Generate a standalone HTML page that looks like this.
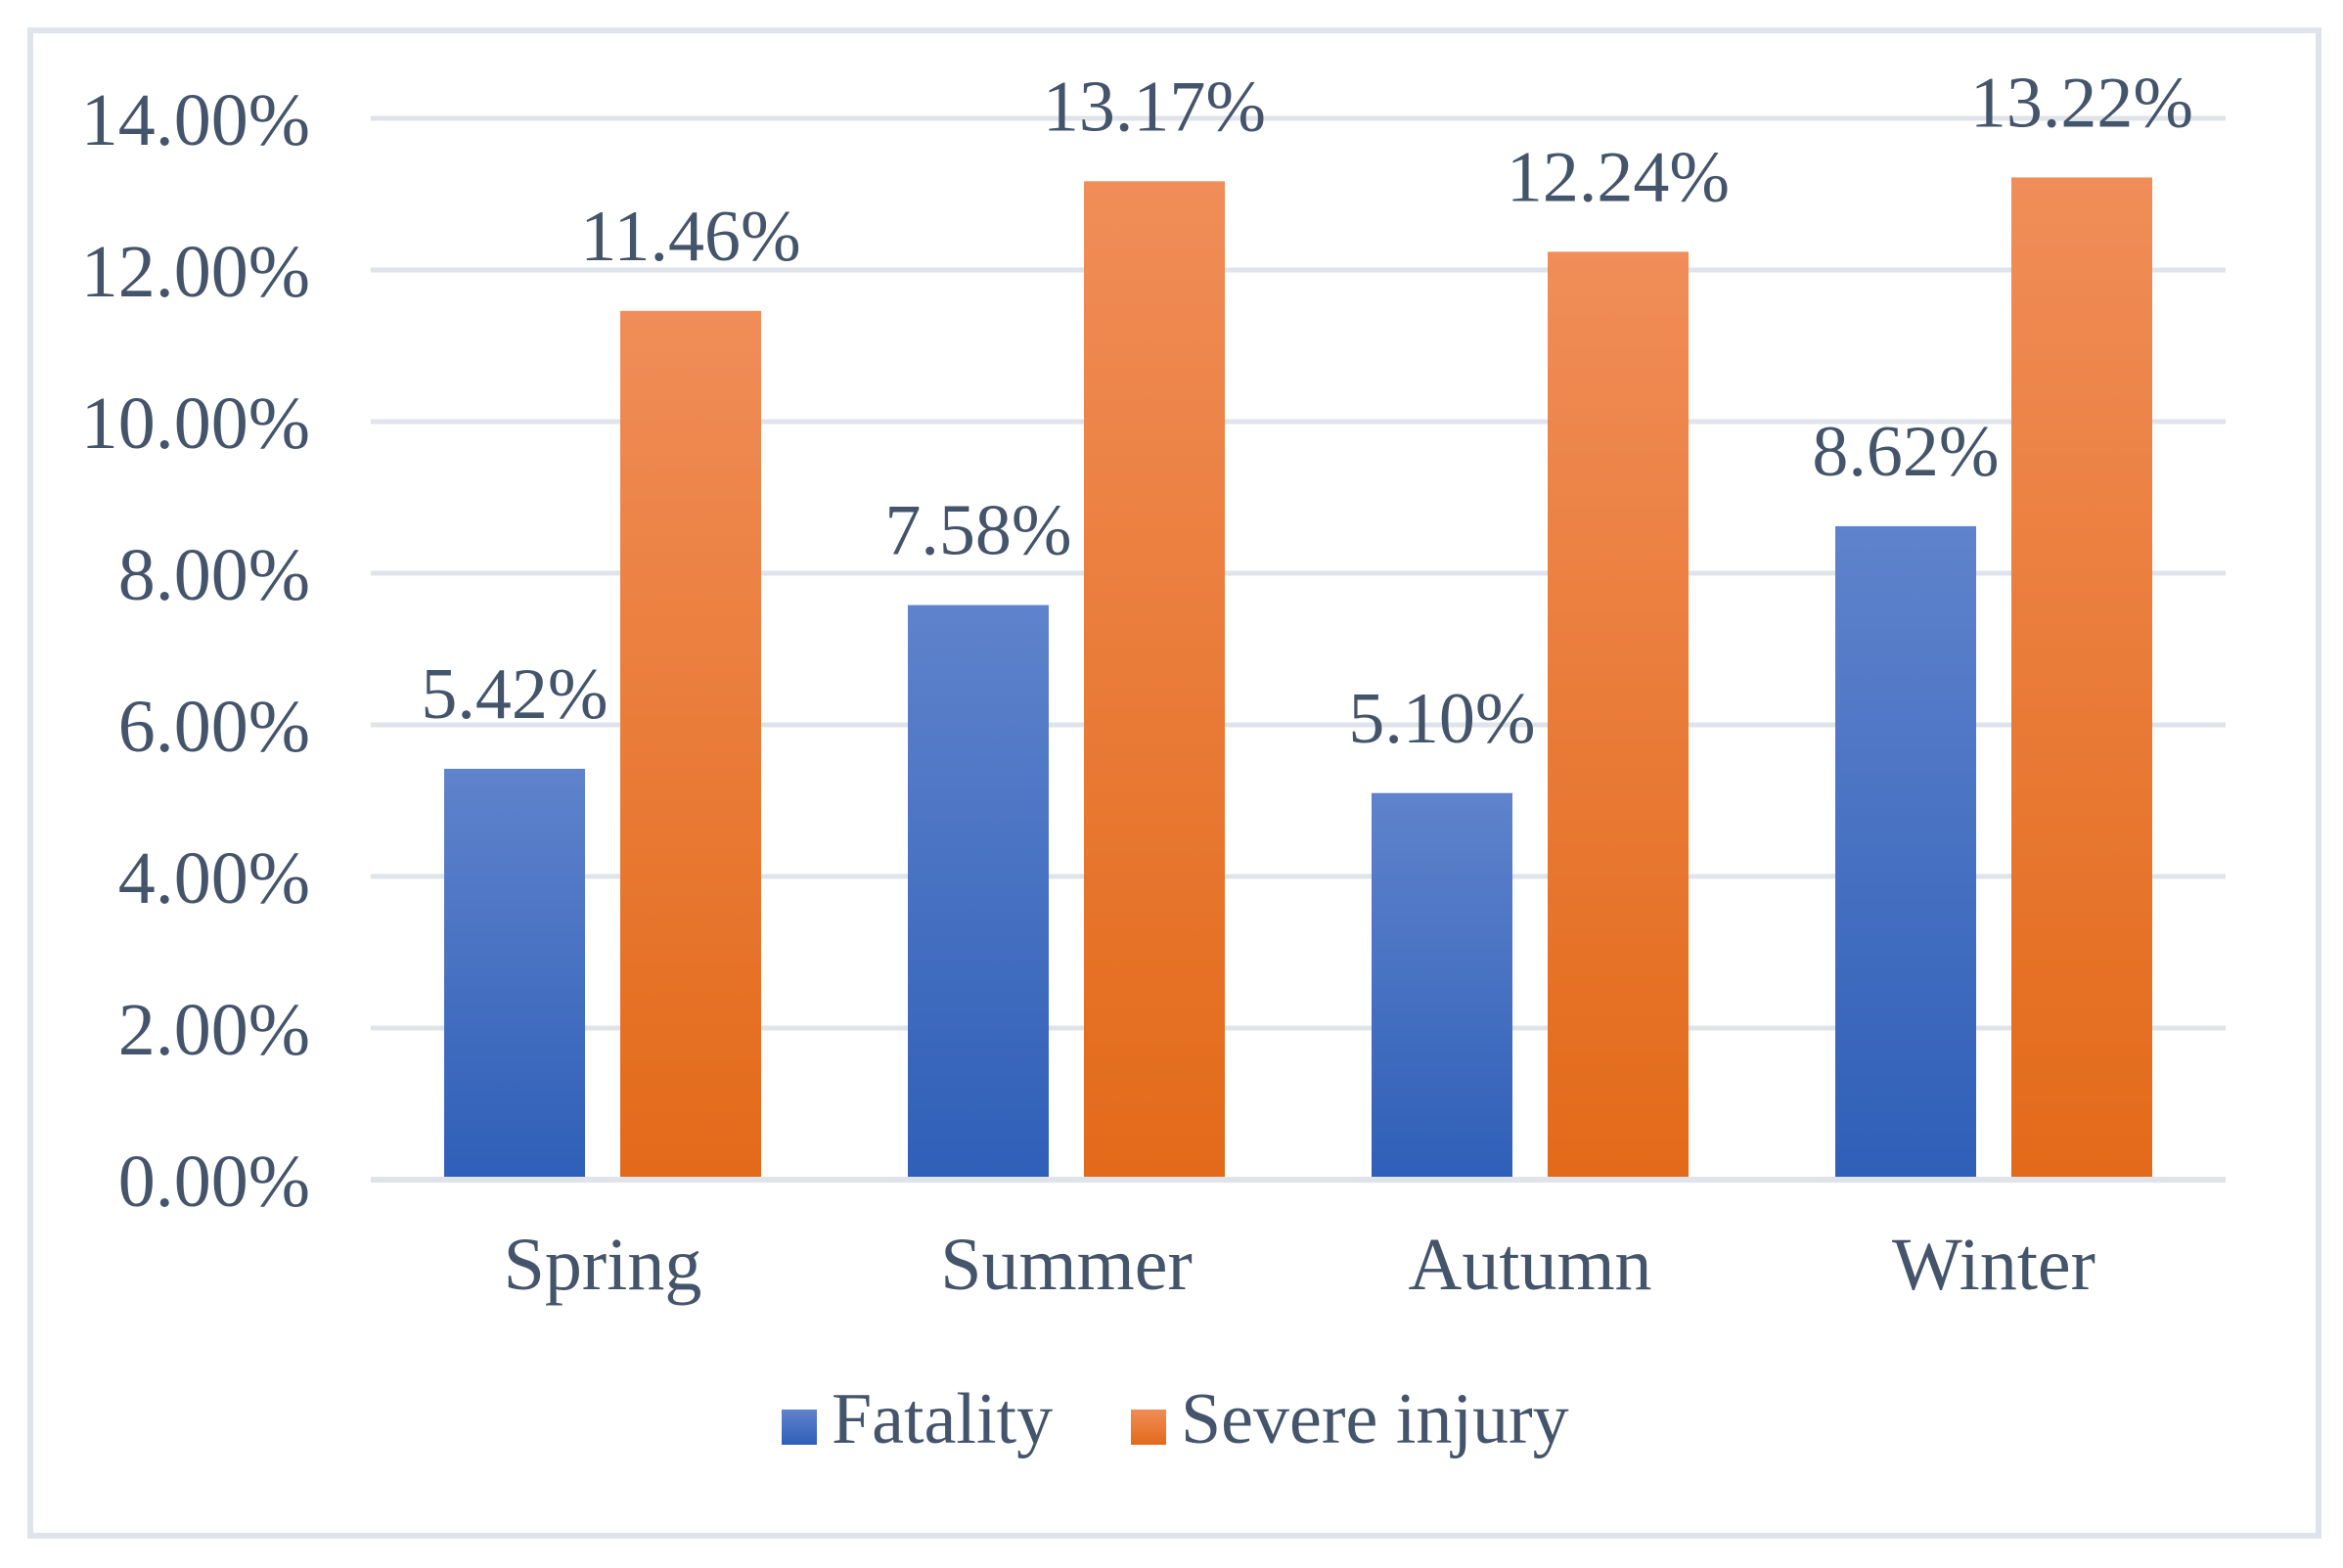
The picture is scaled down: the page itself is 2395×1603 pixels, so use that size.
<!DOCTYPE html>
<html><head><meta charset="utf-8"><style>
html,body{margin:0;padding:0;background:#fff;}
svg{display:block;}
text{font-family:"Liberation Serif",serif;fill:#44546a;}
</style></head><body>
<svg width="2395" height="1603" viewBox="0 0 2395 1603">
<defs>
<linearGradient id="gb" x1="0" y1="0" x2="0" y2="1"><stop offset="0" stop-color="#5f83cc"/><stop offset="1" stop-color="#2f5fb8"/></linearGradient>
<linearGradient id="go" x1="0" y1="0" x2="0" y2="1"><stop offset="0" stop-color="#f08d58"/><stop offset="1" stop-color="#e36a19"/></linearGradient>
</defs>
<rect x="31" y="31" width="2339" height="1539" fill="#fff" stroke="#dfe3ea" stroke-width="6"/>
<g id="grid"></g>
<g id="bars"></g>
<g id="labels"></g>
<g>
<rect x="799" y="1441" width="36" height="36" fill="url(#gb)"/>
<text x="850" y="1475" font-size="74">Fatality</text>
<rect x="1156" y="1441" width="36" height="36" fill="url(#go)"/>
<text x="1207" y="1475" font-size="74">Severe injury</text>
</g>
</svg>
<script>
const categories = ["Spring","Summer","Autumn","Winter"];
const fatality = [5.42,7.58,5.10,8.62];
const severe = [11.46,13.17,12.24,13.22];
const ticks = [0,2,4,6,8,10,12,14];
const tickLabels = ["0.00%","2.00%","4.00%","6.00%","8.00%","10.00%","12.00%","14.00%"];
const NS="http://www.w3.org/2000/svg";
const x0=379,x1=2275,y0=1206,yTop=121,vmax=14;
const y=v=>y0-(v/vmax)*(y0-yTop);
const cw=(x1-x0)/categories.length;
const cx=i=>x0+cw*(i+0.5);
function mk(tag,attrs,parent){const e=document.createElementNS(NS,tag);for(const k in attrs)e.setAttribute(k,attrs[k]);document.getElementById(parent).appendChild(e);return e;}
ticks.forEach((t,i)=>{
  const l=mk('line',{x1:x0,x2:x1,y1:y(t),y2:y(t),stroke:'#dfe3ea','stroke-width':i===0?6:5},'grid');
  
  
  const tx=mk('text',{x:317,y:y(t)+27,'font-size':76,'text-anchor':'end'},'labels');
  tx.textContent=tickLabels[i];
  
  
});
const bw=144,gap=36;
categories.forEach((c,i)=>{
  const c0=cx(i);
  const fx=c0-gap/2-bw, sx=c0+gap/2;
  const b1=mk('rect',{x:fx,y:y(fatality[i]),width:bw,height:y0-y(fatality[i])-3,fill:'url(#gb)'},'bars');
  
  
  const b2=mk('rect',{x:sx,y:y(severe[i]),width:bw,height:y0-y(severe[i])-3,fill:'url(#go)'},'bars');
  
  
  const l1=mk('text',{x:fx+bw/2,y:y(fatality[i])-52,'font-size':74,'text-anchor':'middle'},'labels');
  l1.textContent=fatality[i].toFixed(2)+'%';
  
  
  const l2=mk('text',{x:sx+bw/2,y:y(severe[i])-52,'font-size':74,'text-anchor':'middle'},'labels');
  l2.textContent=severe[i].toFixed(2)+'%';
  
  
  const cl=mk('text',{x:c0,y:1318,'font-size':76,'text-anchor':'middle'},'labels');
  cl.textContent=c;
  
  
});
</script>
</body></html>
